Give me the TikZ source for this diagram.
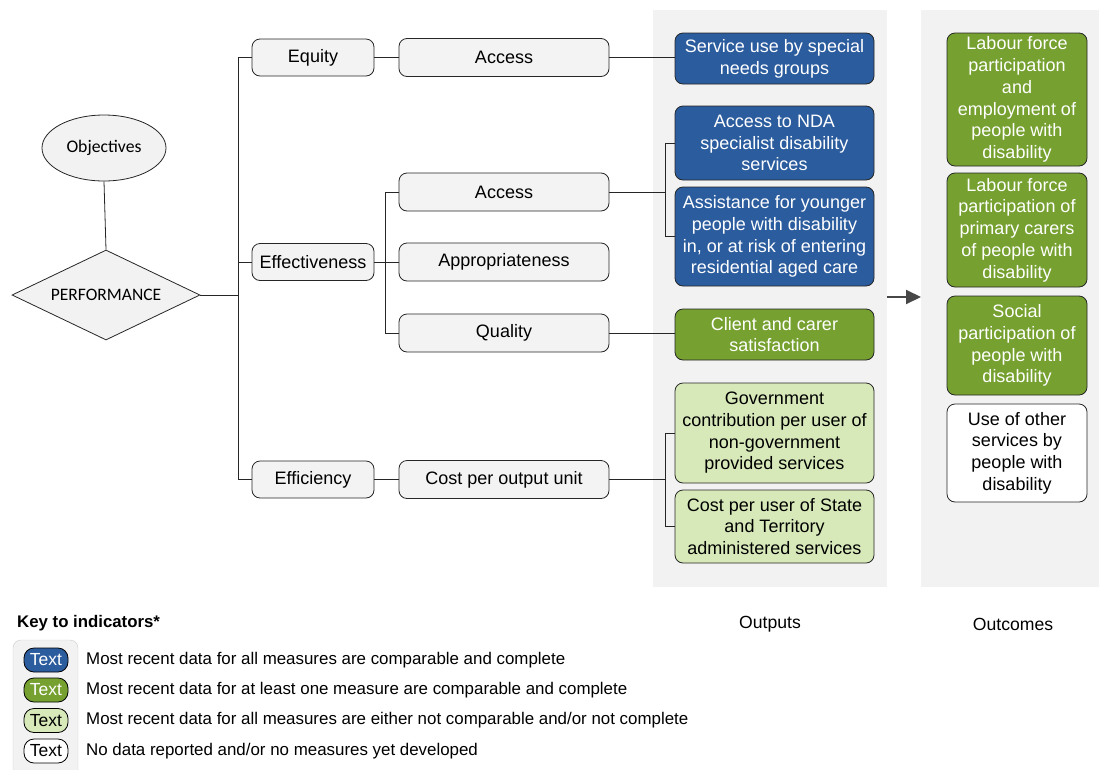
\documentclass[tikz,border=0pt]{standalone}
\usepackage{fontspec}
\setmainfont{Liberation Sans}
\newfontfamily\calib{Carlito}
\usetikzlibrary{shapes.geometric,arrows.meta}
\definecolor{bgpanel}{HTML}{F2F2F2}
\definecolor{boxgray}{HTML}{F3F3F3}
\definecolor{blueF}{HTML}{2B5C9E}
\definecolor{greenF}{HTML}{76A130}
\definecolor{lightG}{HTML}{D7E9B9}
\definecolor{edge}{HTML}{262626}
\newcommand{\mainfs}{\fontsize{18}{21.7}\selectfont}
\newcommand{\keyfs}{\fontsize{16.9}{19}\selectfont}
\begin{document}
\begin{tikzpicture}[x=1pt,y=-1pt,
  box/.style={draw=edge, line width=0.8pt, rounded corners=8pt, align=center, inner sep=0pt, font=\mainfs},
  lvl1/.style={box, fill=boxgray, minimum width=122pt, minimum height=37pt},
  lvl2/.style={box, fill=boxgray, minimum width=210pt, minimum height=38pt},
  outb/.style={box, minimum width=199pt},
  outc/.style={box, minimum width=140pt},
  blueb/.style={fill=blueF, text=white},
  greenb/.style={fill=greenF, text=white},
  lightb/.style={fill=lightG, text=black},
  whiteb/.style={fill=white, text=black},
  conn/.style={draw=edge, line width=0.8pt},
  swatch/.style={draw=black, line width=0.8pt, rounded corners=10pt, minimum width=44pt, minimum height=24pt, inner sep=0pt, font=\fontsize{17.5}{19}\selectfont},
  keytxt/.style={anchor=west, inner sep=0pt, font=\keyfs}
]
\useasboundingbox (0,0) rectangle (1101,769);
% panels
\fill[bgpanel] (653,10) rectangle (887,587);
\fill[bgpanel] (921,10) rectangle (1099,587);

% objectives and performance
\node[ellipse, draw=edge, line width=0.8pt, fill=bgpanel, minimum width=124pt, minimum height=66pt, inner sep=0pt, font=\calib\fontsize{17.7}{20}\selectfont] (obj) at (104,148) {Objectives};
\node[diamond, draw=edge, line width=0.8pt, fill=bgpanel, minimum width=188pt, minimum height=90pt, inner sep=0pt, aspect=2.1, font=\calib\fontsize{17.5}{20}\selectfont] (perf) at (106,295) {PERFORMANCE};

% level 1
\node[lvl1] (equity) at (313,57.5) {Equity};
\node[lvl1] (effect) at (313,262) {Effectiveness};
\node[lvl1] (effic) at (313,479.5) {Efficiency};

% level 2
\node[lvl2] (acc1) at (504,57.5) {Access};
\node[lvl2] (acc2) at (504,192) {Access};
\node[lvl2] (approp) at (504,262) {Appropriateness};
\node[lvl2] (qual) at (504,333) {Quality};
\node[lvl2] (cost) at (504,479.5) {Cost per output unit};

% outputs
\node[outb, blueb, minimum height=51pt] (o1) at (774.5,58.5) {Service use by special\\needs groups};
\node[outb, blueb, minimum height=74pt] (o2) at (774.5,143) {Access to NDA\\specialist disability\\services};
\node[outb, blueb, minimum height=99pt] (o3) at (774.5,236.5) {Assistance for younger\\people with disability\\in, or at risk of entering\\residential aged care};
\node[outb, greenb, minimum height=51pt] (o4) at (774.5,334.5) {Client and carer\\satisfaction};
\node[outb, lightb, minimum height=100pt] (o5) at (774.5,433) {Government\\contribution per user of\\non-government\\provided services};
\node[outb, lightb, minimum height=73pt] (o6) at (774.5,526.5) {Cost per user of State\\and Territory\\administered services};

% outcomes
\node[outc, greenb, minimum height=133pt] (c1) at (1017,99.5) {Labour force\\participation\\and\\employment of\\people with\\disability};
\node[outc, greenb, minimum height=114pt] (c2) at (1017,230) {Labour force\\participation of\\primary carers\\of people with\\disability};
\node[outc, greenb, minimum height=99pt] (c3) at (1017,345.5) {Social\\participation of\\people with\\disability};
\node[outc, whiteb, minimum height=98pt] (c4) at (1017,453) {Use of other\\services by\\people with\\disability};

% trunk coordinates
\coordinate (tk) at (238,0);
\coordinate (st) at (385,0);
\coordinate (ot) at (665,0);

% connectors
\draw[conn] (obj.south) -- (perf.north);
\draw[conn] (perf.east) -- (perf.east -| tk);
\draw[conn] (equity.west) -- (equity.west -| tk) -- (effic.west -| tk) -- (effic.west);
\draw[conn] (effect.west) -- (effect.west -| tk);
\draw[conn] (equity.east) -- (acc1.west);
\draw[conn] (acc1.east) -- (acc1.east -| o1.west);
\draw[conn] (effect.east) -- (effect.east -| st);
\draw[conn] (acc2.west) -- (acc2.west -| st) -- (qual.west -| st) -- (qual.west);
\draw[conn] (approp.west) -- (approp.west -| st);
\draw[conn] (acc2.east) -- (acc2.east -| ot);
\draw[conn] (o2.west) -- (o2.west -| ot) -- (o3.west -| ot) -- (o3.west);
\draw[conn] (qual.east) -- (qual.east -| o4.west);
\draw[conn] (effic.east) -- (cost.west);
\draw[conn] (cost.east) -- (cost.east -| ot);
\draw[conn] (o5.west) -- (o5.west -| ot) -- (o6.west -| ot) -- (o6.west);

% arrow
\coordinate (a1) at (887,297);
\coordinate (a2) at (921,297);
\draw[draw=edge!85, line width=2pt, -{Triangle[length=15pt,width=14pt]}] (a1) -- (a2);

% column labels
\node[font=\fontsize{17.6}{20}\selectfont, inner sep=0pt] (lout) at (770,624) {Outputs};
\node[font=\fontsize{17.6}{20}\selectfont, inner sep=0pt] (lcom) at (1013,624) {Outcomes};

% key
\node[anchor=west, inner sep=0pt, font=\bfseries\fontsize{16.8}{19}\selectfont] (keyt) at (17,623) {Key to indicators*};
\fill[bgpanel, draw=black!20, rounded corners=8pt] (13,640) rectangle (78,780);
\node[swatch, fill=blueF, text=white] (k1) at (46,660) {Text};
\node[swatch, fill=greenF, text=white] (k2) at (46,690) {Text};
\node[swatch, fill=lightG, text=black] (k3) at (46,720.5) {Text};
\node[swatch, fill=white, text=black] (k4) at (46,751) {Text};
\node[keytxt] (kt1) at (86,660) {Most recent data for all measures are comparable and complete};
\node[keytxt] (kt2) at (86,690) {Most recent data for at least one measure are comparable and complete};
\node[keytxt] (kt3) at (86,720.5) {Most recent data for all measures are either not comparable and/or not complete};
\node[keytxt] (kt4) at (86,751) {No data reported and/or no measures yet developed};
\end{tikzpicture}
\end{document}
